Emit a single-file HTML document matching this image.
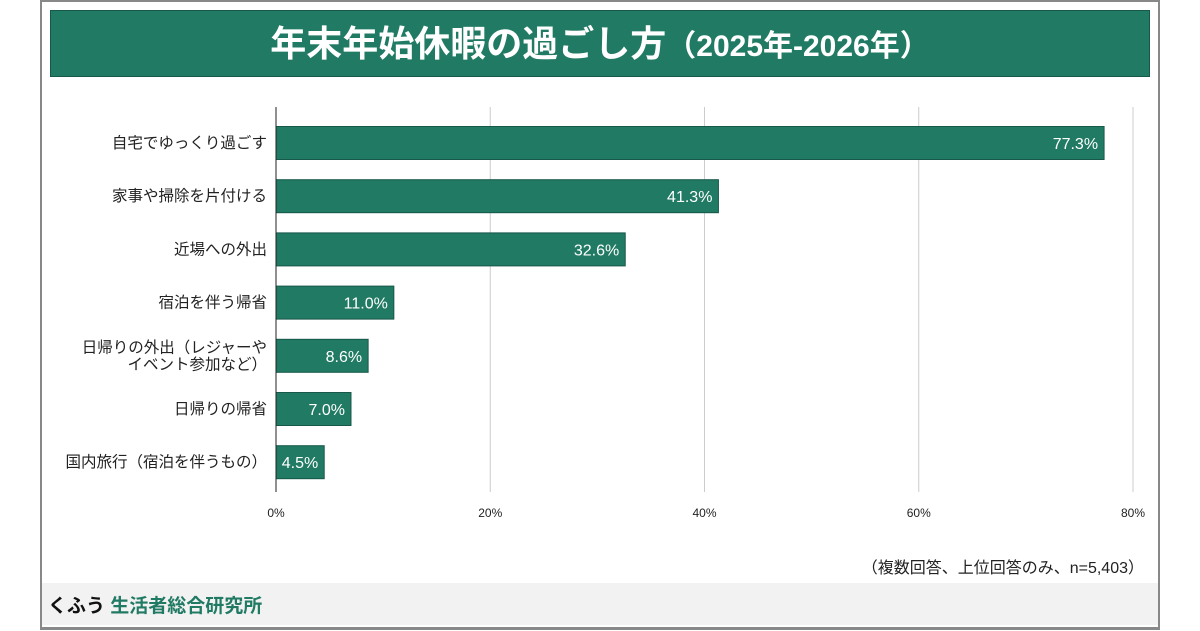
<!DOCTYPE html>
<html><head><meta charset="utf-8"><style>
body{margin:0;width:1200px;height:630px;background:#fff;font-family:"Liberation Sans","Noto Sans CJK JP",sans-serif;overflow:hidden}
#frame{position:absolute;left:40px;top:0;width:1116px;height:625px;border:2px solid #888;border-bottom-width:3px}
#title{position:absolute;left:50px;top:10px;width:1098px;height:65px;background:#217a63;border:1px solid #17584a;color:#fff;font-weight:bold;font-size:36px;line-height:65px;text-align:center}
#footer{position:absolute;left:42px;top:583px;width:1116px;height:42px;background:#f2f2f2;font-size:19px;font-weight:bold;line-height:48px;padding-left:6px;box-sizing:border-box}
#note{position:absolute;right:56px;top:554px;font-size:16px;color:#222}
svg{position:absolute;left:0;top:0}
</style></head><body>
<div id="frame"></div>
<div id="title">年末年始休暇の過ごし方<span style="font-size:30px">（2025年-2026年）</span></div>
<svg id="chart" width="1200" height="630"></svg>
<div id="note">（複数回答、上位回答のみ、n=5,403）</div>
<div id="footer"><span style="color:#111">くふう</span> <span style="color:#217a63">生活者総合研究所</span></div>
<script>
const categories=[["自宅でゆっくり過ごす"],["家事や掃除を片付ける"],["近場への外出"],["宿泊を伴う帰省"],["日帰りの外出（レジャーや","イベント参加など）"],["日帰りの帰省"],["国内旅行（宿泊を伴うもの）"]];
const values=[77.3,41.3,32.6,11.0,8.6,7.0,4.5];
const ticks=[0,20,40,60,80];
const svg=document.getElementById('chart');
const NS='http://www.w3.org/2000/svg';
const x0=276,x1=1133,xmax=80,yTop=107,yBot=492;
const xs=v=>x0+(x1-x0)*v/xmax;
const yc=i=>143+53.2*i;
function mk(t,a){const e=document.createElementNS(NS,t);for(const k in a)e.setAttribute(k,a[k]);svg.appendChild(e);return e;}
ticks.forEach(t=>{
 if(t>0){const g=mk('line',{x1:xs(t),x2:xs(t),y1:yTop,y2:yBot,stroke:'#ccc','stroke-width':1});
 
 }
 const l=mk('text',{x:xs(t),y:517,'text-anchor':'middle','font-size':12,fill:'#222'});
 l.textContent=t+'%';
 
 
});
values.forEach((v,i)=>{
 const h=33,y=yc(i)-h/2;
 const r=mk('rect',{x:x0,y:y,width:xs(v)-x0,height:h,fill:'#217a63',stroke:'#17584a','stroke-width':1});
 
 
 const t=mk('text',{x:xs(v)-6,y:yc(i)+6,'text-anchor':'end','font-size':16,fill:'#fff'});
 t.textContent=v.toFixed(1)+'%';
 
 
 const lines=categories[i];
 lines.forEach((s,j)=>{
  const c=mk('text',{x:267,y:yc(i)+5+(j-(lines.length-1)/2)*17,'text-anchor':'end','font-size':15.5,fill:'#222'});
  c.textContent=s;
  
  
 });
});
const ax=mk('line',{x1:x0,x2:x0,y1:yTop,y2:yBot,stroke:'#222','stroke-width':1});


</script>
</body></html>
